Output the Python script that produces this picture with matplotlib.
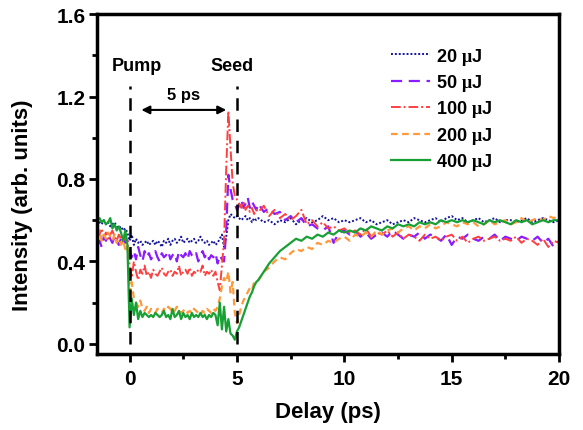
import numpy as np
import matplotlib
matplotlib.use("Agg")
import matplotlib.pyplot as plt
from matplotlib.ticker import MultipleLocator

plt.rcParams['font.family'] = ['Liberation Sans', 'DejaVu Sans']
plt.rcParams['font.weight'] = 'bold'
plt.rcParams['mathtext.fontset'] = 'custom'
plt.rcParams['mathtext.rm'] = 'Liberation Serif'

# sampling grid of delays (ps)
delay = np.round(np.concatenate([np.arange(-1.5, -0.05, 0.1),
                                 np.arange(0.0, 5.95, 0.1),
                                 np.arange(6.0, 20.01, 0.25)]), 3)

labels = ["20 $\\mathrm{\\mu}$J", "50 $\\mathrm{\\mu}$J", "100 $\\mathrm{\\mu}$J",
          "200 $\\mathrm{\\mu}$J", "400 $\\mathrm{\\mu}$J"]

i20 = [0.57,0.59,0.58,0.60,0.58,0.59,0.57,0.58,0.59,0.57,0.56,0.57,0.55,0.56,0.54,
       0.50,0.53,0.48,0.51,0.49,0.50,0.48,0.49,0.50,0.48,
       0.49,0.50,0.48,0.50,0.49,0.47,0.50,0.49,0.51,0.48,
       0.50,0.51,0.49,0.50,0.52,0.49,0.50,0.51,0.49,0.50,
       0.51,0.49,0.50,0.52,0.50,0.49,0.50,0.48,0.49,0.50,
       0.48,0.49,0.51,0.53,0.47,0.52,0.60,0.63,0.62,0.61,
       0.62,0.61,0.60,0.61,0.62,0.60,0.61,0.59,0.61,0.60,
       0.61,0.59,0.60,0.58, 0.60,0.59,0.61,0.58, 0.60,0.61,0.59,0.60, 0.62,0.60,0.61,0.59,
       0.60,0.59,0.60,0.61, 0.59,0.60,0.58,0.59, 0.60,0.58,0.59,0.60, 0.59,0.61,0.60,0.59,
       0.60,0.61,0.59,0.61, 0.62,0.60,0.61,0.59, 0.60,0.61,0.59,0.60, 0.61,0.59,0.60,0.60,
       0.59,0.60,0.61,0.59, 0.60,0.61,0.60,0.59, 0.60]

i50 = [0.48,0.50,0.47,0.52,0.50,0.53,0.51,0.49,0.52,0.50,0.48,0.51,0.53,0.49,0.50,
       0.46,0.42,0.45,0.41,0.47,0.43,0.40,0.45,0.42,0.44,
       0.41,0.43,0.45,0.42,0.40,0.44,0.42,0.43,0.45,0.41,
       0.43,0.44,0.40,0.45,0.43,0.42,0.44,0.41,0.45,0.43,
       0.42,0.44,0.40,0.43,0.45,0.42,0.44,0.41,0.43,0.42,
       0.44,0.39,0.43,0.41,0.40,0.55,0.82,0.75,0.70,0.68,
       0.65,0.67,0.70,0.66,0.68,0.71,0.66,0.69,0.67,0.65,
       0.68,0.64,0.66,0.63, 0.64,0.60,0.62,0.59, 0.61,0.57,0.58,0.56, 0.55,0.57,0.49,0.54,
       0.55,0.53,0.55,0.52, 0.54,0.51,0.53,0.54, 0.52,0.55,0.53,0.51, 0.53,0.52,0.54,0.51,
       0.53,0.52,0.50,0.53, 0.48,0.52,0.51,0.53, 0.51,0.50,0.52,0.51, 0.53,0.50,0.52,0.51,
       0.50,0.52,0.51,0.50, 0.52,0.49,0.51,0.47, 0.50]

i100 = [0.55,0.53,0.56,0.52,0.54,0.51,0.53,0.55,0.52,0.50,0.53,0.51,0.49,0.52,0.50,
        0.38,0.32,0.40,0.35,0.31,0.36,0.34,0.38,0.33,0.35,
        0.32,0.36,0.34,0.33,0.35,0.37,0.34,0.33,0.35,0.36,
        0.33,0.35,0.34,0.38,0.33,0.35,0.36,0.34,0.37,0.33,
        0.35,0.34,0.36,0.35,0.38,0.33,0.35,0.34,0.36,0.33,
        0.35,0.30,0.26,0.38,0.50,0.85,1.13,0.95,0.78,0.72,
        0.70,0.68,0.66,0.69,0.65,0.67,0.64,0.66,0.63,0.65,
        0.64,0.67,0.62,0.65, 0.61,0.63,0.60,0.62, 0.65,0.58,0.60,0.57, 0.59,0.56,0.57,0.55,
        0.56,0.54,0.55,0.53, 0.56,0.52,0.54,0.53, 0.55,0.52,0.54,0.51, 0.53,0.52,0.50,0.53,
        0.51,0.52,0.50,0.52, 0.53,0.50,0.52,0.49, 0.51,0.52,0.50,0.51, 0.52,0.50,0.51,0.50,
        0.52,0.49,0.51,0.50, 0.48,0.51,0.47,0.50, 0.49]

i200 = [0.52,0.55,0.50,0.53,0.51,0.54,0.52,0.50,0.53,0.49,0.51,0.48,0.50,0.46,0.48,
        0.25,0.30,0.22,0.20,0.18,0.21,0.17,0.16,0.18,0.15,
        0.17,0.16,0.15,0.17,0.16,0.15,0.17,0.16,0.18,0.17,
        0.15,0.16,0.18,0.17,0.15,0.16,0.17,0.15,0.16,0.15,
        0.17,0.16,0.15,0.14,0.16,0.15,0.17,0.16,0.15,0.17,
        0.16,0.18,0.22,0.28,0.32,0.30,0.35,0.25,0.30,0.15,
        0.10,0.14,0.18,0.21,0.23,0.25,0.27,0.26,0.30,0.31,
        0.31,0.35,0.37,0.40, 0.42,0.41,0.44,0.46, 0.45,0.47,0.46,0.49, 0.48,0.50,0.49,0.51,
        0.52,0.50,0.53,0.52, 0.54,0.52,0.55,0.53, 0.55,0.56,0.54,0.56, 0.57,0.55,0.57,0.56,
        0.58,0.56,0.57,0.59, 0.58,0.57,0.59,0.58, 0.59,0.57,0.58,0.60, 0.58,0.59,0.60,0.58,
        0.59,0.61,0.59,0.60, 0.61,0.60,0.62,0.61, 0.62]

i400 = [0.60,0.61,0.59,0.60,0.58,0.59,0.61,0.56,0.58,0.55,0.57,0.54,0.50,0.55,0.48,
        0.08,0.22,0.14,0.20,0.12,0.16,0.13,0.15,0.14,0.13,
        0.14,0.13,0.15,0.14,0.13,0.14,0.16,0.13,0.14,0.12,
        0.17,0.13,0.14,0.16,0.12,0.15,0.13,0.14,0.12,0.15,
        0.13,0.14,0.13,0.15,0.13,0.14,0.12,0.14,0.13,0.15,
        0.14,0.09,0.20,0.07,0.18,0.06,0.12,0.05,0.04,0.02,
        0.06,0.08,0.11,0.14,0.17,0.20,0.23,0.25,0.28,0.30,
        0.31,0.35,0.39,0.42, 0.45,0.47,0.49,0.51, 0.50,0.52,0.51,0.53, 0.52,0.54,0.53,0.55,
        0.54,0.55,0.54,0.56, 0.55,0.57,0.56,0.55, 0.57,0.56,0.58,0.57, 0.58,0.57,0.59,0.58,
        0.59,0.58,0.60,0.59, 0.60,0.59,0.60,0.59, 0.60,0.59,0.58,0.60, 0.59,0.60,0.59,0.58,
        0.60,0.59,0.60,0.58, 0.59,0.60,0.59,0.60, 0.60]

series = [i20, i50, i100, i200, i400]
colors = ["#14149a", "#8a1cff", "#ff4040", "#ff9a3c", "#18a035"]
styles = [dict(linestyle=(0, (1, 1)), lw=1.4),
          dict(linestyle=(0, (5, 3)), lw=1.6),
          dict(linestyle=(0, (5, 1.5, 1, 1.5)), lw=1.4),
          dict(linestyle=(0, (3, 2)), lw=1.6),
          dict(linestyle='-', lw=1.6)]

fig = plt.figure(figsize=(5.83, 4.31), dpi=100)
ax = fig.add_axes([0.167, 0.176, 0.792, 0.789])

for y, c, st, lab in zip(series, colors, styles, labels):
    ax.plot(delay, y, color=c, label=lab, **st)

ax.set_xlim(-1.5, 20)
ax.set_ylim(-0.05, 1.6)
ax.xaxis.set_major_locator(MultipleLocator(5))
ax.xaxis.set_minor_locator(MultipleLocator(2.5))
ax.yaxis.set_major_locator(MultipleLocator(0.4))
ax.yaxis.set_minor_locator(MultipleLocator(0.2))
ax.yaxis.set_major_formatter(plt.FormatStrFormatter('%.1f'))
ax.tick_params(which='both', direction='out', width=2.0, top=False, right=False,
               labelsize=15)
ax.tick_params(which='major', length=5.5)
ax.tick_params(axis='x', which='major', pad=5)
ax.tick_params(axis='y', which='major', pad=3)
ax.tick_params(which='minor', length=3.5)
for sp in ax.spines.values():
    sp.set_linewidth(2.5)
for lbl in ax.get_xticklabels() + ax.get_yticklabels():
    lbl.set_fontweight('bold')

ax.set_xlabel("Delay (ps)", fontsize=16, fontweight='bold', va='center')
ax.set_ylabel("Intensity (arb. units)", fontsize=16, fontweight='bold', va='center')
ax.xaxis.set_label_coords(0.5, -0.168)
ax.yaxis.set_label_coords(-0.162, 0.44)

# markers for pump and seed
ax.plot([0, 0], [0, 1.25], color='black', lw=1.8, linestyle=(0, (5, 3.5)))
ax.plot([5, 5], [0, 1.25], color='black', lw=1.8, linestyle=(0, (5, 3.5)))
ax.text(0.33, 1.31, "Pump", ha='center', va='bottom', fontsize=13, fontweight='bold')
ax.text(4.77, 1.31, "Seed", ha='center', va='bottom', fontsize=13, fontweight='bold')
ax.annotate("", xy=(4.5, 1.135), xytext=(0.55, 1.135),
            arrowprops=dict(arrowstyle='<|-|>', color='black', lw=1.5,
                            mutation_scale=12, shrinkA=0, shrinkB=0))
ax.text(2.5, 1.175, "5 ps", ha='center', va='bottom', fontsize=12, fontweight='bold')

leg = ax.legend(loc='upper left', bbox_to_anchor=(0.6, 0.955), frameon=False,
                fontsize=13, handlelength=2.2, handletextpad=0.3, labelspacing=0.3)
for t in leg.get_texts():
    t.set_fontweight('bold')

fig.savefig("out.png", dpi=100)
